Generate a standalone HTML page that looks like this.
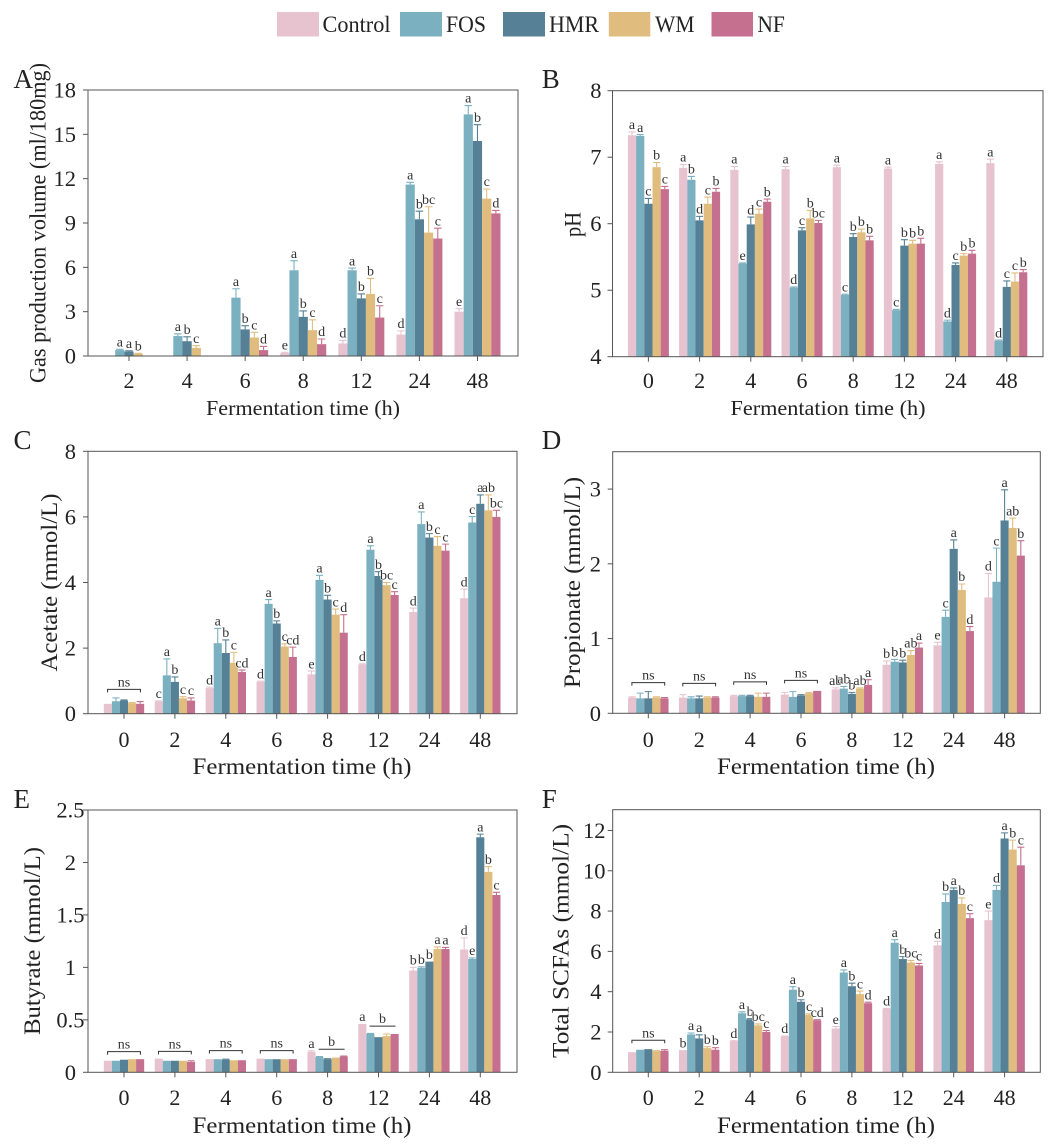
<!DOCTYPE html>
<html lang="en">
<head>
<meta charset="utf-8">
<title>Fermentation time charts</title>
<style>
html,body{margin:0;padding:0;background:#fff;}
svg{display:block;font-family:"Liberation Serif",serif;}
</style>
</head>
<body>
<svg id="figure" width="1056" height="1146" viewBox="0 0 1056 1146" xmlns="http://www.w3.org/2000/svg">
  <g font-size="23" fill="#222">
    <g><rect x="277" y="12" width="42" height="24.5" fill="#e7c3cf"/><text x="322.5" y="32" textLength="68" lengthAdjust="spacingAndGlyphs">Control</text></g>
    <g><rect x="400" y="12" width="42" height="24.5" fill="#7bb0c1"/><text x="446" y="32" textLength="40" lengthAdjust="spacingAndGlyphs">FOS</text></g>
    <g><rect x="503" y="12" width="42" height="24.5" fill="#568095"/><text x="549" y="32" textLength="50" lengthAdjust="spacingAndGlyphs">HMR</text></g>
    <g><rect x="608.8" y="12" width="41.5" height="24.5" fill="#e0bd7e"/><text x="655" y="32" textLength="39.5" lengthAdjust="spacingAndGlyphs">WM</text></g>
    <g><rect x="711.5" y="12" width="41.5" height="24.5" fill="#c4708e"/><text x="757.4" y="32" textLength="27.5" lengthAdjust="spacingAndGlyphs">NF</text></g>
  </g>
</svg>
<script>
const seriesNames = ['control', 'fos', 'hmr', 'wm', 'nf'];
const seriesColors = ['#e7c3cf', '#7bb0c1', '#568095', '#e0bd7e', '#c4708e'];

const categoriesA = ['2', '4', '6', '8', '12', '24', '48'];
const categoriesAll = ['0', '2', '4', '6', '8', '12', '24', '48'];

/* Panel A: gas production volume */
const gasControl = [0, 0, 0, 0.2, 0.85, 1.45, 3.0];
const gasFOS = [0.4, 1.35, 3.95, 5.8, 5.8, 11.6, 16.35];
const gasHMR = [0.3, 1.0, 1.8, 2.65, 3.9, 9.25, 14.55];
const gasWM = [0.15, 0.55, 1.25, 1.75, 4.2, 8.35, 10.65];
const gasNF = [0, 0, 0.4, 0.8, 2.6, 7.95, 9.65];
const gasControlErr = [0, 0, 0, 0.05, 0.2, 0.25, 0.2];
const gasFOSErr = [0.05, 0.15, 0.6, 0.65, 0.15, 0.15, 0.6];
const gasHMRErr = [0.05, 0.3, 0.25, 0.4, 0.3, 0.55, 1.1];
const gasWMErr = [0.03, 0.15, 0.35, 0.7, 1.05, 1.75, 0.65];
const gasNFErr = [0, 0, 0.25, 0.35, 0.8, 0.7, 0.2];
const gasLetters = [['', 'a', 'a', 'b', ''], ['', 'a', 'b', 'c', ''], ['', 'a', 'b', 'c', 'd'], ['e', 'a', 'b', 'c', 'd'], ['d', 'a', 'b', 'b', 'c'], ['d', 'a', 'b', 'bc', 'c'], ['e', 'a', 'b', 'c', 'd']];
const gasTicks = [0, 3, 6, 9, 12, 15, 18];
const gasTickLabels = ['0', '3', '6', '9', '12', '15', '18'];

/* Panel B: pH */
const phControl = [7.33, 6.84, 6.81, 6.82, 6.85, 6.83, 6.9, 6.91];
const phFOS = [7.32, 6.66, 5.4, 5.04, 4.93, 4.7, 4.53, 4.24];
const phHMR = [6.3, 6.05, 5.99, 5.9, 5.8, 5.67, 5.38, 5.05];
const phWM = [6.85, 6.3, 6.15, 6.08, 5.87, 5.7, 5.52, 5.13];
const phNF = [6.52, 6.48, 6.33, 6.01, 5.75, 5.7, 5.55, 5.27];
const phControlErr = [0.05, 0.05, 0.05, 0.04, 0.03, 0.02, 0.03, 0.06];
const phFOSErr = [0.02, 0.05, 0.01, 0.01, 0.01, 0.01, 0.02, 0.01];
const phHMRErr = [0.08, 0.06, 0.11, 0.04, 0.05, 0.09, 0.03, 0.09];
const phWMErr = [0.07, 0.1, 0.07, 0.12, 0.05, 0.05, 0.03, 0.13];
const phNFErr = [0.04, 0.05, 0.04, 0.04, 0.06, 0.08, 0.05, 0.04];
const phLetters = [['a', 'a', 'c', 'b', 'c'], ['a', 'b', 'd', 'c', 'b'], ['a', 'e', 'd', 'c', 'b'], ['a', 'd', 'c', 'b', 'bc'], ['a', 'c', 'b', 'b', 'b'], ['a', 'c', 'b', 'b', 'b'], ['a', 'd', 'c', 'b', 'b'], ['a', 'd', 'c', 'c', 'b']];
const phTicks = [4, 5, 6, 7, 8];
const phTickLabels = ['4', '5', '6', '7', '8'];

/* Panel C: acetate */
const aceControl = [0.3, 0.37, 0.78, 0.97, 1.2, 1.5, 3.1, 3.52];
const aceFOS = [0.38, 1.17, 2.15, 3.35, 4.08, 5.0, 5.78, 5.83];
const aceHMR = [0.4, 0.97, 1.85, 2.75, 3.48, 4.2, 5.37, 6.4];
const aceWM = [0.32, 0.47, 1.55, 2.05, 3.02, 3.92, 5.12, 6.2];
const aceNF = [0.3, 0.4, 1.27, 1.73, 2.47, 3.62, 4.97, 6.0];
const aceControlErr = [0, 0.02, 0.03, 0.02, 0.1, 0.02, 0.12, 0.28];
const aceFOSErr = [0.1, 0.5, 0.45, 0.13, 0.14, 0.12, 0.37, 0.18];
const aceHMRErr = [0.02, 0.15, 0.4, 0.08, 0.13, 0.13, 0.12, 0.27];
const aceWMErr = [0.02, 0.05, 0.32, 0.08, 0.17, 0.08, 0.28, 0.47];
const aceNFErr = [0.07, 0.08, 0.06, 0.3, 0.55, 0.1, 0.2, 0.2];
const aceLetters = [['', '', '', '', ''], ['c', 'a', 'b', 'c', 'c'], ['d', 'a', 'b', 'c', 'cd'], ['d', 'a', 'b', 'c', 'cd'], ['e', 'a', 'b', 'c', 'd'], ['d', 'a', 'b', 'bc', 'c'], ['d', 'a', 'b', 'c', 'c'], ['d', 'c', 'a', 'ab', 'bc']];
const aceTicks = [0, 2, 4, 6, 8];
const aceTickLabels = ['0', '2', '4', '6', '8'];
const aceBracketGroups = [0];
const aceBracketLevels = [0.74];

/* Panel D: propionate */
const proControl = [0.21, 0.21, 0.23, 0.25, 0.32, 0.65, 0.91, 1.55];
const proFOS = [0.2, 0.2, 0.23, 0.22, 0.33, 0.69, 1.29, 1.76];
const proHMR = [0.2, 0.2, 0.23, 0.24, 0.26, 0.68, 2.2, 2.58];
const proWM = [0.21, 0.21, 0.22, 0.27, 0.33, 0.78, 1.65, 2.48];
const proNF = [0.2, 0.21, 0.22, 0.3, 0.38, 0.88, 1.1, 2.11];
const proControlErr = [0.01, 0.04, 0.01, 0.03, 0.02, 0.05, 0.04, 0.32];
const proFOSErr = [0.07, 0.02, 0.01, 0.07, 0.03, 0.03, 0.09, 0.45];
const proHMRErr = [0.09, 0.03, 0.01, 0.01, 0.02, 0.03, 0.12, 0.41];
const proWMErr = [0.01, 0.01, 0.05, 0.01, 0.01, 0.06, 0.08, 0.13];
const proNFErr = [0.01, 0.01, 0.05, 0, 0.07, 0.06, 0.06, 0.2];
const proLetters = [['', '', '', '', ''], ['', '', '', '', ''], ['', '', '', '', ''], ['', '', '', '', ''], ['ab', 'ab', 'b', 'ab', 'a'], ['b', 'b', 'b', 'ab', 'a'], ['e', 'c', 'a', 'b', 'd'], ['d', 'c', 'a', 'ab', 'b']];
const proTicks = [0, 1, 2, 3];
const proTickLabels = ['0', '1', '2', '3'];
const proBracketGroups = [0, 1, 2, 3];
const proBracketLevels = [0.41, 0.4, 0.42, 0.44];

/* Panel E: butyrate */
const butControl = [0.11, 0.13, 0.125, 0.13, 0.195, 0.46, 0.97, 1.17];
const butFOS = [0.11, 0.11, 0.125, 0.125, 0.145, 0.365, 0.995, 1.08];
const butHMR = [0.12, 0.11, 0.12, 0.125, 0.125, 0.335, 1.055, 2.24];
const butWM = [0.125, 0.11, 0.115, 0.125, 0.14, 0.345, 1.175, 1.91];
const butNF = [0.125, 0.1, 0.115, 0.125, 0.15, 0.365, 1.175, 1.69];
const butControlErr = [0, 0, 0, 0, 0.01, 0, 0.03, 0.11];
const butFOSErr = [0, 0, 0, 0, 0.005, 0.005, 0.01, 0.01];
const butHMRErr = [0, 0, 0.005, 0, 0.005, 0, 0, 0.03];
const butWMErr = [0, 0, 0, 0, 0, 0.02, 0.02, 0.05];
const butNFErr = [0, 0.01, 0, 0, 0.005, 0, 0.015, 0.025];
const butLetters = [['', '', '', '', ''], ['', '', '', '', ''], ['', '', '', '', ''], ['', '', '', '', ''], ['a', '', '', '', ''], ['a', '', '', '', ''], ['b', 'b', 'b', 'a', 'a'], ['d', 'e', 'a', 'b', 'c']];
const butTicks = [0, 0.5, 1, 1.5, 2, 2.5];
const butTickLabels = ['0', '0.5', '1', '1.5', '2', '2.5'];
const butBracketGroups = [0, 1, 2, 3];
const butBracketLevels = [0.197, 0.2, 0.207, 0.207];
const butFlatGroups = [4, 5];
const butFlatLevels = [0.22, 0.44];

/* Panel F: total SCFAs */
const scfaControl = [1.0, 1.1, 1.55, 1.78, 2.17, 3.15, 6.3, 7.55];
const scfaFOS = [1.12, 1.88, 2.93, 4.1, 4.95, 6.43, 8.45, 9.05];
const scfaHMR = [1.15, 1.68, 2.63, 3.5, 4.27, 5.62, 9.05, 11.6];
const scfaWM = [1.05, 1.2, 2.33, 2.85, 3.88, 5.45, 8.35, 11.05];
const scfaNF = [1.07, 1.12, 2.0, 2.58, 3.43, 5.3, 7.65, 10.27];
const scfaControlErr = [0, 0, 0.02, 0.02, 0.1, 0.02, 0.2, 0.45];
const scfaFOSErr = [0, 0.07, 0.07, 0.15, 0.13, 0.15, 0.4, 0.22];
const scfaHMRErr = [0, 0.18, 0.03, 0.1, 0.15, 0.12, 0.1, 0.28];
const scfaWMErr = [0.02, 0.07, 0.07, 0.05, 0.15, 0.1, 0.3, 0.47];
const scfaNFErr = [0.05, 0.1, 0.07, 0.03, 0.05, 0.1, 0.22, 0.9];
const scfaLetters = [['', '', '', '', ''], ['b', 'a', 'a', 'b', 'b'], ['d', 'a', 'b', 'bc', 'c'], ['d', 'a', 'b', 'c', 'cd'], ['e', 'a', 'b', 'c', 'd'], ['d', 'a', 'b', 'bc', 'c'], ['d', 'b', 'a', 'b', 'c'], ['e', 'd', 'a', 'b', 'c']];
const scfaTicks = [0, 2, 4, 6, 8, 10, 12];
const scfaTickLabels = ['0', '2', '4', '6', '8', '10', '12'];
const scfaBracketGroups = [0];
const scfaBracketLevels = [1.59];

const SVG_NS = 'http://www.w3.org/2000/svg';
const root = document.getElementById('figure');

function shape(parent, tag, attrs, content) {
  const el = document.createElementNS(SVG_NS, tag);
  for (const k in attrs) el.setAttribute(k, attrs[k]);
  if (content !== undefined) el.textContent = content;
  parent.appendChild(el);
  return el;
}

function drawPanel(p) {
  const yScale = v => p.bottom - (v - p.ymin) / (p.ymax - p.ymin) * (p.bottom - p.top);
  const xScale = i => p.x0 + i * p.dx;
  const id = p.id;

  const g = shape(root, 'g', {});
  
  

  const letter = shape(g, 'text', {x: p.letterX, y: p.letterY, 'font-size': 27, fill: '#222'}, id.toUpperCase());
  
  

  /* bars and error bars */
  p.series.forEach((values, s) => {
    const color = seriesColors[s];
    const sg = shape(g, 'g', {});
    
    
    values.forEach((v, i) => {
      const cx = xScale(i) + (s - 2) * p.barW;
      const yTop = yScale(v);
      const bar = shape(sg, 'rect', {x: cx - p.barW / 2, y: yTop, width: p.barW, height: Math.max(0, p.bottom - yTop), fill: color});
      
      
      const e = p.errs[s][i];
      const yErr = yScale(v + e);
      if (e > 0) {
        const err = shape(sg, 'path', {d: 'M' + cx + ' ' + yTop + 'V' + yErr + 'M' + (cx - p.capW / 2) + ' ' + yErr + 'H' + (cx + p.capW / 2), stroke: color, 'stroke-width': 1.1, fill: 'none'});
        
        
      }
    });
  });

  /* significance letters above all bars */
  p.letters.forEach((row, i) => {
    row.forEach((lab, s) => {
      if (!lab) return;
      const cx = xScale(i) + (s - 2) * p.barW;
      const yErr = yScale(p.series[s][i] + p.errs[s][i]);
      const t = shape(g, 'text', {x: cx, y: yErr - 2.8, 'font-size': 14, 'text-anchor': 'middle', fill: '#333', stroke: '#fff', 'stroke-width': 1, 'paint-order': 'stroke'}, lab);
      
      
    });
  });

  /* ns brackets */
  (p.bracketGroups || []).forEach((gi, k) => {
    const cx = xScale(gi);
    const yb = yScale(p.bracketLevels[k]);
    const br = shape(g, 'path', {d: 'M' + (cx - 16.4) + ' ' + (yb + 3) + 'V' + yb + 'H' + (cx + 16.4) + 'V' + (yb + 3), stroke: '#333', 'stroke-width': 1, fill: 'none'});
    
    
    const nt = shape(g, 'text', {x: cx, y: yb - 3, 'font-size': 14, 'text-anchor': 'middle', fill: '#333'}, 'ns');
    
    
  });

  /* flat group lines */
  (p.flatGroups || []).forEach((gi, k) => {
    const cx = xScale(gi) + 4;
    const yb = yScale(p.flatLevels[k]);
    const ln = shape(g, 'line', {x1: cx - 13, x2: cx + 13, y1: yb, y2: yb, stroke: '#333', 'stroke-width': 1});
    
    
    const nt = shape(g, 'text', {x: cx, y: yb - 3, 'font-size': 14, 'text-anchor': 'middle', fill: '#333'}, 'b');
    
    
  });

  /* frame */
  const frame = shape(g, 'rect', {x: p.left, y: p.top, width: p.right - p.left, height: p.bottom - p.top, fill: 'none', stroke: '#555', 'stroke-width': 1});
  
  

  /* y axis */
  p.yTicks.forEach((v, k) => {
    const y = yScale(v);
    const tick = shape(g, 'line', {x1: p.left - 5, x2: p.left, y1: y, y2: y, stroke: '#555', 'stroke-width': 1});
    
    
    const label = p.yTickLabels[k];
    const t = shape(g, 'text', {x: p.yLabelX + (label.length > 1 ? p.yLabelWide : 0), y: y + 7.5, 'font-size': 22.5, 'text-anchor': 'end', fill: '#222'}, label);
    
    
  });

  /* x axis */
  p.cats.forEach((c, i) => {
    const x = xScale(i);
    const tick = shape(g, 'line', {x1: x, x2: x, y1: p.bottom, y2: p.bottom + 5, stroke: '#555', 'stroke-width': 1});
    
    
    const t = shape(g, 'text', {x: x, y: p.xLabelY, 'font-size': 22, 'text-anchor': 'middle', fill: '#222'}, c);
    
    
  });

  const xt = shape(g, 'text', {x: p.xTitleX, y: p.xTitleY, 'font-size': p.titleSize, 'text-anchor': 'middle', fill: '#222', textLength: p.xTitleLen, lengthAdjust: 'spacingAndGlyphs'}, 'Fermentation time (h)');
  
  

  const yt = shape(g, 'text', {transform: 'translate(' + p.yTitleX + ' ' + p.yTitleY + ') rotate(-90)', 'font-size': p.yTitleSize, 'text-anchor': 'middle', fill: '#222', textLength: p.yTitleLen, lengthAdjust: 'spacingAndGlyphs'}, p.yTitle);
  
  
}

drawPanel({id: 'a', cats: categoriesA, series: [gasControl, gasFOS, gasHMR, gasWM, gasNF], errs: [gasControlErr, gasFOSErr, gasHMRErr, gasWMErr, gasNFErr], letters: gasLetters, yTicks: gasTicks, yTickLabels: gasTickLabels, ymin: 0, ymax: 18,
  left: 88, right: 518, top: 90, bottom: 356, x0: 129, dx: 58.08, barW: 9.2, capW: 7.5, yLabelX: 76, yLabelWide: 0, xLabelY: 388, xTitleX: 303, xTitleY: 415, xTitleLen: 194, titleSize: 21.5, yTitle: 'Gas production volume (ml/180mg)', yTitleSize: 23, yTitleX: 45.6, yTitleY: 223, yTitleLen: 320, letterX: 13.5, letterY: 88});

drawPanel({id: 'b', cats: categoriesAll, series: [phControl, phFOS, phHMR, phWM, phNF], errs: [phControlErr, phFOSErr, phHMRErr, phWMErr, phNFErr], letters: phLetters, yTicks: phTicks, yTickLabels: phTickLabels, ymin: 4, ymax: 8,
  left: 612.5, right: 1043, top: 90.7, bottom: 356.7, x0: 648.4, dx: 51.2, barW: 8.2, capW: 7, yLabelX: 601.5, yLabelWide: 0, xLabelY: 388, xTitleX: 828, xTitleY: 415, xTitleLen: 195, titleSize: 21.5, yTitle: 'pH', yTitleSize: 23, yTitleX: 580.3, yTitleY: 224.5, yTitleLen: 25, letterX: 541.7, letterY: 88});

drawPanel({id: 'c', cats: categoriesAll, series: [aceControl, aceFOS, aceHMR, aceWM, aceNF], errs: [aceControlErr, aceFOSErr, aceHMRErr, aceWMErr, aceNFErr], letters: aceLetters, yTicks: aceTicks, yTickLabels: aceTickLabels, ymin: 0, ymax: 8, bracketGroups: aceBracketGroups, bracketLevels: aceBracketLevels,
  left: 88, right: 517, top: 451.3, bottom: 713.7, x0: 124, dx: 50.9, barW: 8.07, capW: 7, yLabelX: 76, yLabelWide: 0, xLabelY: 747, xTitleX: 302, xTitleY: 774, xTitleLen: 219, titleSize: 23.5, yTitle: 'Acetate (mmol/L)', yTitleSize: 23.5, yTitleX: 56.8, yTitleY: 582.5, yTitleLen: 178, letterX: 13.5, letterY: 449});

drawPanel({id: 'd', cats: categoriesAll, series: [proControl, proFOS, proHMR, proWM, proNF], errs: [proControlErr, proFOSErr, proHMRErr, proWMErr, proNFErr], letters: proLetters, yTicks: proTicks, yTickLabels: proTickLabels, ymin: 0, ymax: 3.5, bracketGroups: proBracketGroups, bracketLevels: proBracketLevels,
  left: 612.7, right: 1040.3, top: 451.7, bottom: 713.3, x0: 648.3, dx: 50.9, barW: 8.1, capW: 7, yLabelX: 601, yLabelWide: 0, xLabelY: 747, xTitleX: 826, xTitleY: 774, xTitleLen: 218, titleSize: 23.5, yTitle: 'Propionate (mmol/L)', yTitleSize: 23.5, yTitleX: 580, yTitleY: 582.5, yTitleLen: 211, letterX: 541.7, letterY: 449});

drawPanel({id: 'e', cats: categoriesAll, series: [butControl, butFOS, butHMR, butWM, butNF], errs: [butControlErr, butFOSErr, butHMRErr, butWMErr, butNFErr], letters: butLetters, yTicks: butTicks, yTickLabels: butTickLabels, ymin: 0, ymax: 2.5, bracketGroups: butBracketGroups, bracketLevels: butBracketLevels, flatGroups: butFlatGroups, flatLevels: butFlatLevels,
  left: 88, right: 517, top: 810, bottom: 1072.3, x0: 124, dx: 50.9, barW: 8.07, capW: 7, yLabelX: 76, yLabelWide: 8.5, xLabelY: 1105, xTitleX: 302, xTitleY: 1133, xTitleLen: 219, titleSize: 23.5, yTitle: 'Butyrate (mmol/L)', yTitleSize: 23.5, yTitleX: 40, yTitleY: 941, yTitleLen: 188, letterX: 13.5, letterY: 808});

drawPanel({id: 'f', cats: categoriesAll, series: [scfaControl, scfaFOS, scfaHMR, scfaWM, scfaNF], errs: [scfaControlErr, scfaFOSErr, scfaHMRErr, scfaWMErr, scfaNFErr], letters: scfaLetters, yTicks: scfaTicks, yTickLabels: scfaTickLabels, ymin: 0, ymax: 13.03, bracketGroups: scfaBracketGroups, bracketLevels: scfaBracketLevels,
  left: 612.7, right: 1040.3, top: 809.7, bottom: 1072.3, x0: 648.3, dx: 50.9, barW: 8.1, capW: 7, yLabelX: 601.5, yLabelWide: 4, xLabelY: 1105, xTitleX: 826, xTitleY: 1133, xTitleLen: 218, titleSize: 23.5, yTitle: 'Total SCFAs (mmol/L)', yTitleSize: 23.5, yTitleX: 568.6, yTitleY: 941, yTitleLen: 234, letterX: 541.7, letterY: 808});
</script>
</body>
</html>
